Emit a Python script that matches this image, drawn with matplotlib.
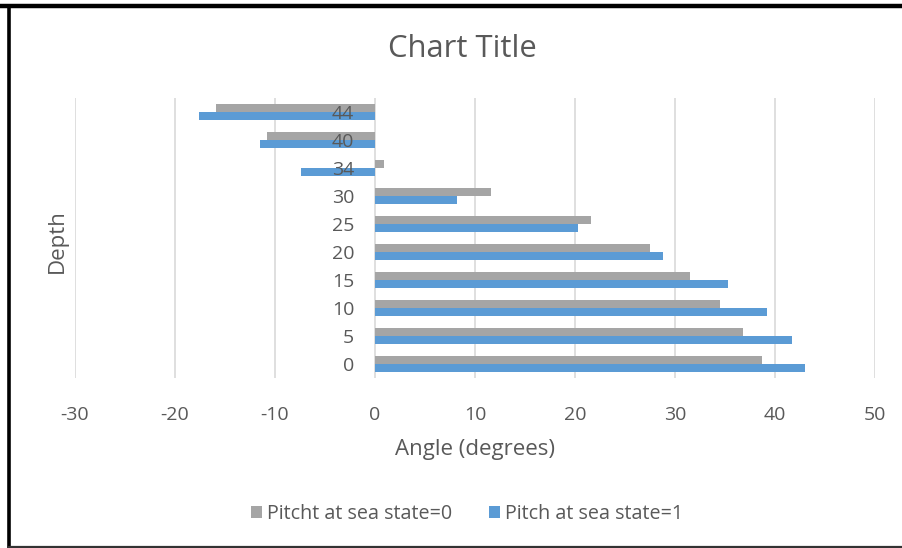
import matplotlib
matplotlib.use("Agg")
import matplotlib.pyplot as plt
from matplotlib.patches import Patch
from matplotlib.lines import Line2D
import numpy as np

plt.rcParams['font.family'] = ['Open Sans', 'DejaVu Sans']

# Depth categories (bottom to top) and pitch angles in degrees
depths = ["0", "5", "10", "15", "20", "25", "30", "34", "40", "44"]
pitch_state0 = [38.7, 36.8, 34.5, 31.5, 27.5, 21.6, 11.6, 0.85, -10.85, -15.9]
pitch_state1 = [43.0, 41.7, 39.2, 35.3, 28.8, 20.3, 8.2, -7.45, -11.5, -17.6]
series_names = ["Pitcht at sea state=0", "Pitch at sea state=1"]
x_ticks = [-30, -20, -10, 0, 10, 20, 30, 40, 50]

GRAY = "#A5A5A5"
BLUE = "#5B9BD5"
TEXT = "#595959"
GRID = "#D9D9D9"

W, H = 902, 548
fig = plt.figure(figsize=(W / 100, H / 100), dpi=100)

# plot area in pixel coordinates
left, right, top, bottom = 75, 875, 98, 378
ax = fig.add_axes([left / W, 1 - bottom / H, (right - left) / W, (bottom - top) / H])

y = np.arange(len(depths))
bh = 0.27
ax.barh(y + bh / 2, pitch_state0, height=bh, color=GRAY, zorder=2)
ax.barh(y - bh / 2, pitch_state1, height=bh, color=BLUE, zorder=2)

ax.set_xlim(-30, 50)
ax.set_ylim(-0.5, len(depths) - 0.5)
ax.set_xticks(x_ticks)
ax.set_xticklabels([str(v) for v in x_ticks])
ax.set_yticks(y)
ax.set_yticklabels(depths)

# vertical gridlines behind the bars
ax.set_axisbelow(True)
ax.grid(axis="x", color=GRID, linewidth=1.2)
ax.grid(axis="y", visible=False)

# category labels sit next to the zero line, drawn over the bars
ax.spines["left"].set_position(("data", 0))
for s in ["left", "right", "top", "bottom"]:
    ax.spines[s].set_visible(False)
ax.yaxis.set_zorder(5)
ax.tick_params(axis="y", length=0, pad=15, labelsize=14, labelcolor=TEXT)
ax.tick_params(axis="x", length=0, pad=20, labelsize=14, labelcolor=TEXT)

ax.set_xlabel("Angle (degrees)", fontsize=16, color=TEXT, labelpad=11)
fig.text(57 / W, 1 - 241 / H, "Depth", rotation=90, fontsize=16, color=TEXT,
         ha="center", va="center")

fig.text(462 / W, 1 - 49 / H, "Chart Title", fontsize=22.3, color=TEXT,
         ha="center", va="center")

handles = [Patch(facecolor=GRAY, edgecolor="none"), Patch(facecolor=BLUE, edgecolor="none")]
fig.legend(handles, series_names, loc="center", bbox_to_anchor=(467 / W, 1 - 514 / H),
           ncol=2, frameon=False, fontsize=14.2, labelcolor=TEXT,
           handlelength=0.55, handleheight=0.55, handletextpad=0.25, columnspacing=1.9)

# black outer frame
fig.add_artist(Line2D([0, 1], [1 - 6 / H, 1 - 6 / H], color="black", lw=3.2, transform=fig.transFigure))
fig.add_artist(Line2D([8.5 / W, 8.5 / W], [0, 1 - 6 / H], color="black", lw=2.6, transform=fig.transFigure))
fig.add_artist(Line2D([8.5 / W, 1], [1 / H, 1 / H], color="#333333", lw=1.6, transform=fig.transFigure))

fig.savefig("out.png", dpi=100, facecolor="white")
